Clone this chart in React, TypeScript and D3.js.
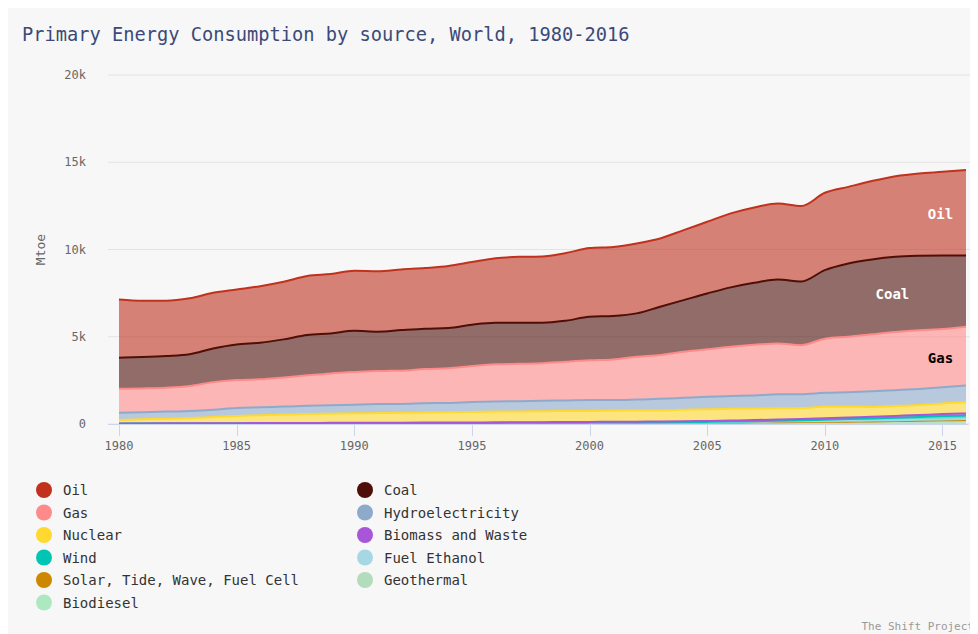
import React from "react";
import * as d3 from "d3";

const years = d3.range(1980, 2017);

const oil = [3340,3220,3160,3200,3190,3150,3240,3300,3380,3400,3440,3470,3480,3480,3550,3590,3700,3780,3800,3880,3930,3960,4010,3910,4010,4110,4240,4320,4360,4320,4430,4390,4490,4620,4720,4790,4890];
const coal = [1780,1800,1820,1820,1930,2040,2100,2180,2310,2290,2360,2250,2330,2310,2310,2370,2380,2350,2320,2350,2500,2490,2490,2770,2960,3200,3400,3550,3660,3650,3930,4200,4290,4310,4270,4220,4090];
const gas = [1370,1360,1370,1430,1580,1600,1600,1670,1750,1830,1870,1900,1900,1960,1980,2060,2130,2140,2150,2220,2280,2330,2450,2510,2640,2720,2830,2900,2920,2810,3100,3180,3270,3330,3360,3340,3360];
const hydro = [420,410,410,405,420,460,460,460,465,480,500,510,510,530,540,570,575,590,600,605,620,605,620,660,690,720,730,760,800,795,800,830,890,910,920,920,970];
const nuclear = [199,236,262,303,354,410,446,482,513,524,538,556,562,578,584,600,620,620,625,634,631,639,645,636,651,664,673,656,643,629,664,621,570,567,578,608,632];
const biomass = [10,11,12,13,14,15,16,18,20,22,25,26,27,28,29,30,32,34,36,38,40,42,44,47,51,55,59,63,68,72,80,88,96,103,110,118,125];
const wind = [0,0,0,0,0,0,0,0,0,0,1,1,1,2,2,2,3,3,4,5,7,9,12,14,19,24,30,39,50,63,79,100,119,145,162,190,195];
const fuelEthanol = [1,2,3,4,5,5,6,6,6,6,6,6,7,7,8,8,8,8,8,8,9,10,11,13,15,17,21,27,35,39,45,46,45,47,51,54,56];
const solar = [0,0,0,0,0,0,0,0,0,0,0,0,0,0,0,0,0,0,0,0,0,0,0,0,0,1,1,2,3,5,8,14,22,31,41,52,62];
const geothermal = [20,21,23,25,27,30,32,34,36,38,40,41,43,45,47,50,52,55,57,60,62,64,66,68,71,74,77,81,85,89,94,99,105,112,120,130,140];
const biodiesel = [0,0,0,0,0,0,0,0,0,0,0,0,0,0,0,0,0,0,0,0,1,1,2,2,3,5,9,12,16,18,20,22,23,25,28,28,30];

const legendNames = ["Oil","Coal","Gas","Hydroelectricity","Nuclear","Biomass and Waste","Wind","Fuel Ethanol","Solar, Tide, Wave, Fuel Cell","Geothermal","Biodiesel"];
const legendColors = ["#c0321e","#4f0f08","#ff8a8a","#8eaacb","#ffd92f","#a855d9","#00c5b5","#a6d8e3","#cc8800","#b3dcbc","#aee8c0"];
const seriesValues = [oil, coal, gas, hydro, nuclear, biomass, wind, fuelEthanol, solar, geothermal, biodiesel];

const yTicks = [0, 5000, 10000, 15000, 20000];
const xTicks = [1980, 1985, 1990, 1995, 2000, 2005, 2010, 2015];

const W = 970, H = 626;
const MONO = "'DejaVu Sans Mono', 'Liberation Mono', monospace";

export default function App() {
  const x = d3.scaleLinear().domain([1980, 2016]).range([111, 958]);
  const y = d3.scaleLinear().domain([0, 20000]).range([416, 67]);

  const order = legendNames.map((_, i) => i).reverse();
  const rows = years.map((yr, j) => {
    const r: any = { year: yr };
    legendNames.forEach((n, i) => (r[n] = seriesValues[i][j]));
    return r;
  });
  const stack = d3.stack<any>().keys(order.map((i) => legendNames[i]));
  const layers = stack(rows);

  const area = d3.area<any>()
    .x((d) => x(d.data.year))
    .y0((d) => y(d[0]))
    .y1((d) => y(d[1]))
    .curve(d3.curveMonotoneX);
  const line = d3.line<any>()
    .x((d) => x(d.data.year))
    .y((d) => y(d[1]))
    .curve(d3.curveMonotoneX);

  const colorOf = (name: string) => legendColors[legendNames.indexOf(name)];
  const layerByName = (name: string) => layers.find((l) => l.key === name)!;

  const labelAt = (name: string, yr: number) => {
    const l = layerByName(name);
    const p = l[yr - 1980];
    return { x: x(yr), y: y((p[0] + p[1]) / 2) };
  };
  const oilL = labelAt("Oil", 2015);
  const coalL = labelAt("Coal", 2013);
  const gasL = labelAt("Gas", 2015);

  return (
    <svg width={W} height={H} style={{ display: "block", background: "#f7f7f7" }} fontFamily={MONO}>
      <rect x={0} y={0} width={W} height={H} fill="#f7f7f7" />
      <text x={14} y={33} fontSize={18.7} fill="#3b4a78">Primary Energy Consumption by source, World, 1980-2016</text>

      {yTicks.map((t) => (
        <g key={t}>
          <line x1={100} x2={970} y1={y(t)} y2={y(t)} stroke="#e3e3e3" strokeWidth={1} />
          <text x={78} y={y(t) + 4} textAnchor="end" fontSize={12} fill="#666">{t === 0 ? "0" : `${t / 1000}k`}</text>
        </g>
      ))}
      <text transform={`translate(37,${y(10000)}) rotate(-90)`} textAnchor="middle" fontSize={13} fill="#666">Mtoe</text>

      {layers.map((l) => (
        <path key={l.key} d={area(l) || ""} fill={colorOf(l.key)} fillOpacity={0.6} stroke="none" />
      ))}
      {layers.map((l) => (
        <path key={l.key + "-line"} d={line(l) || ""} fill="none" stroke={colorOf(l.key)} strokeWidth={2} />
      ))}

      <line x1={100} x2={960} y1={416.5} y2={416.5} stroke="#ccd6eb" strokeWidth={1} />
      {xTicks.map((t) => (
        <g key={t}>
          <line x1={Math.round(x(t)) + 0.5} x2={Math.round(x(t)) + 0.5} y1={416} y2={428} stroke="#ccd6eb" strokeWidth={1} />
          <text x={x(t)} y={442} textAnchor="middle" fontSize={12} fill="#666">{t}</text>
        </g>
      ))}

      <text x={oilL.x - 2} y={oilL.y + 5} textAnchor="middle" fontSize={14} fontWeight="bold" fill="#fff">Oil</text>
      <text x={coalL.x - 3} y={coalL.y + 5} textAnchor="middle" fontSize={14} fontWeight="bold" fill="#fff">Coal</text>
      <text x={gasL.x - 2} y={gasL.y + 5} textAnchor="middle" fontSize={14} fontWeight="bold" fill="#000">Gas</text>

      {legendNames.map((n, i) => {
        const col = i % 2;
        const row = Math.floor(i / 2);
        const cx = col === 0 ? 36 : 357;
        const cy = 482 + row * 22.5;
        return (
          <g key={n}>
            <circle cx={cx} cy={cy} r={8} fill={legendColors[i]} />
            <text x={cx + 19} y={cy + 5} fontSize={14} fill="#333">{n}</text>
          </g>
        );
      })}

      <text x={966} y={622} textAnchor="end" fontSize={11} fill="#999">The Shift Project</text>
    </svg>
  );
}
